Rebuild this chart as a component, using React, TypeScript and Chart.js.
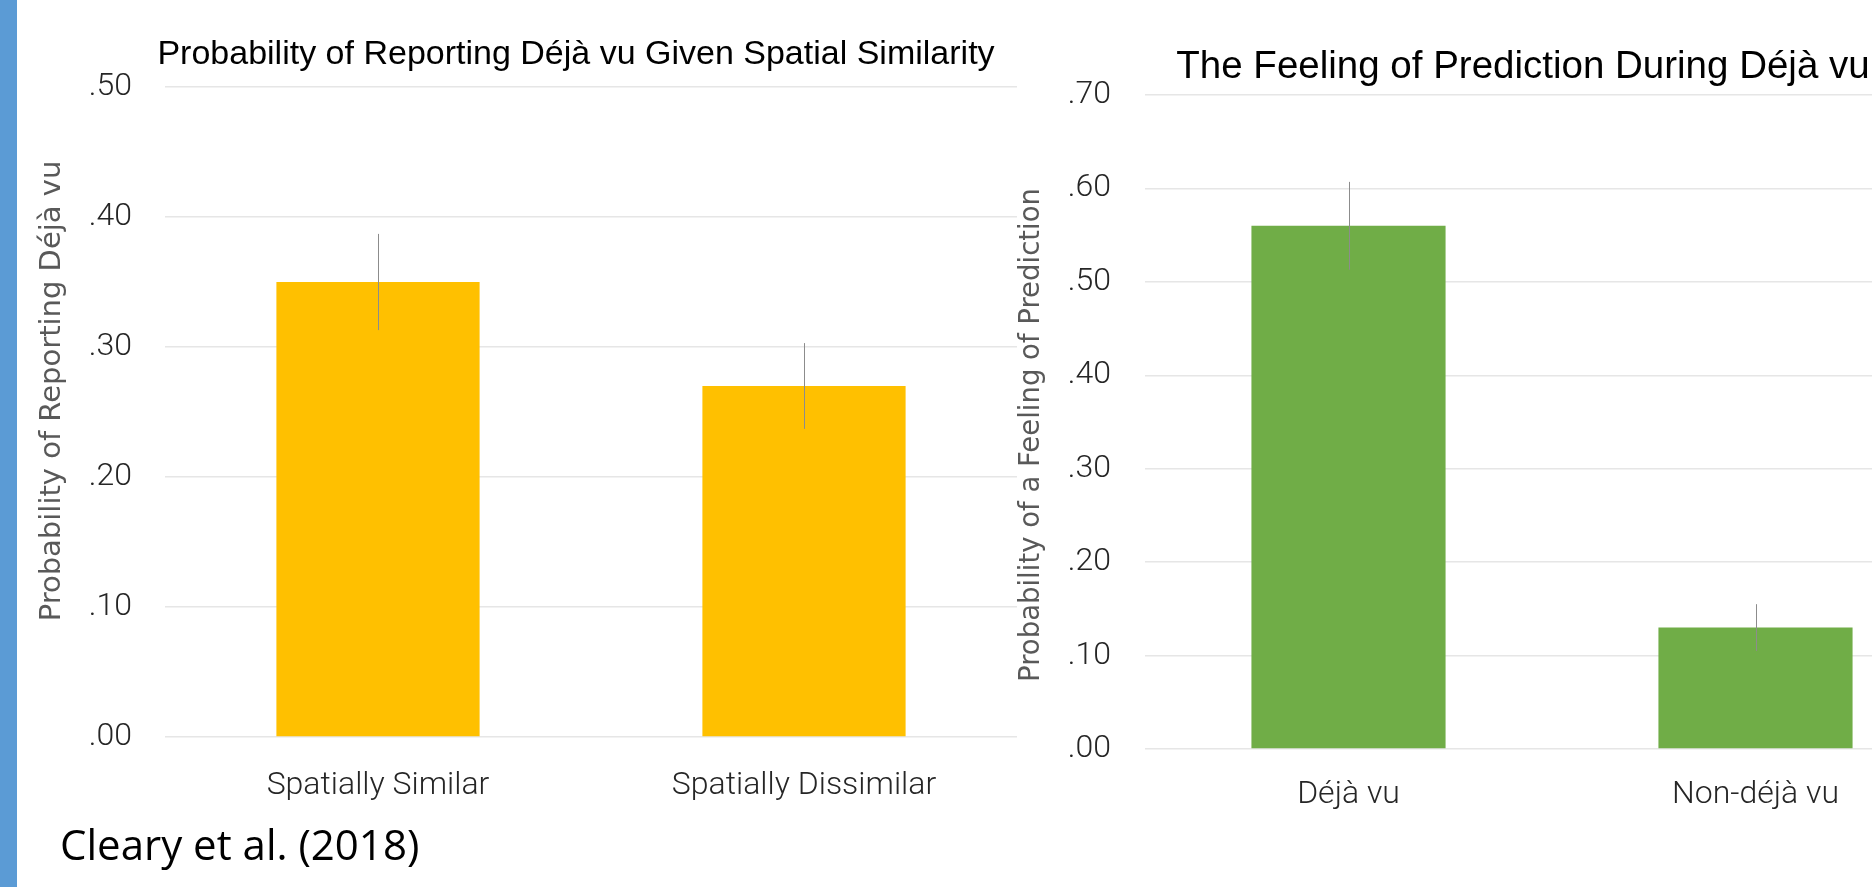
import React, { useEffect, useRef } from 'react';
import { Chart, registerables } from 'chart.js';

Chart.register(...registerables);

// ---------- data ----------
const leftTitle = 'Probability of Reporting Déjà vu Given Spatial Similarity';
const leftCategories = ['Spatially Similar', 'Spatially Dissimilar'];
const leftValues = [0.35, 0.27];
const leftErrors = [0.037, 0.033];
const leftYTitle = 'Probability of Reporting Déjà vu';
const leftYTicks = ['.00', '.10', '.20', '.30', '.40', '.50'];

const rightTitle = 'The Feeling of Prediction During Déjà vu';
const rightCategories = ['Déjà vu', 'Non-déjà vu'];
const rightValues = [0.56, 0.13];
const rightErrors = [0.047, 0.025];
const rightYTitle = 'Probability of a Feeling of Prediction';
const rightYTicks = ['.00', '.10', '.20', '.30', '.40', '.50', '.60', '.70'];

const citation = 'Cleary et al. (2018)';

// ---------- plugins ----------
const errorBarsPlugin = {
  id: 'errorBars',
  afterDatasetsDraw(chart: any, _args: any, opts: any) {
    const errs: number[] = opts.errors || [];
    const meta = chart.getDatasetMeta(0);
    const ys = chart.scales.y;
    const vals = chart.data.datasets[0].data as number[];
    const ctx = chart.ctx;
    ctx.save();
    ctx.strokeStyle = opts.color || '#8c8c8c';
    ctx.lineWidth = opts.width || 1;
    meta.data.forEach((bar: any, i: number) => {
      const e = errs[i];
      if (e == null) return;
      const x = Math.round(bar.x) + 0.5;
      const y1 = ys.getPixelForValue(vals[i] + e);
      const y2 = ys.getPixelForValue(vals[i] - e);
      ctx.beginPath();
      ctx.moveTo(x, y1);
      ctx.lineTo(x, y2);
      ctx.stroke();
    });
    ctx.restore();
  },
};

const yTitlePlugin = {
  id: 'yTitle',
  afterDraw(chart: any, _args: any, opts: any) {
    if (!opts || !opts.text) return;
    const ctx = chart.ctx;
    const area = chart.chartArea;
    ctx.save();
    ctx.translate(opts.x, (area.top + area.bottom) / 2 + (opts.dy || 0));
    ctx.rotate(-Math.PI / 2);
    ctx.font = opts.font;
    ctx.fillStyle = opts.color;
    ctx.textAlign = 'center';
    ctx.textBaseline = 'middle';
    ctx.fillText(opts.text, 0, 0);
    ctx.restore();
  },
};

const panelTitlePlugin = {
  id: 'panelTitle',
  afterDraw(chart: any, _args: any, opts: any) {
    if (!opts || !opts.text) return;
    const ctx = chart.ctx;
    ctx.save();
    ctx.font = opts.font;
    ctx.fillStyle = opts.color;
    ctx.textAlign = 'center';
    ctx.textBaseline = 'middle';
    ctx.fillText(opts.text, opts.x, opts.y);
    ctx.restore();
  },
};

const TICK_FONT = 'Roboto, "Liberation Sans", sans-serif';
const TITLE_FONT = '"Liberation Sans", Arial, sans-serif';

interface PanelProps {
  left: number;
  width: number;
  height: number;
  title: string;
  titleSize: number;
  titleX: number;
  titleY: number;
  categories: string[];
  values: number[];
  errors: number[];
  color: string;
  yMax: number;
  yTicks: string[];
  yTitle: string;
  yTitleSize: number;
  yTitleX: number;
  yTitleDy: number;
  padLeft: number;
  padRight: number;
  padTop: number;
  yAxisWidth: number;
  yTickPad: number;
  xFontSize: number;
  xTickPad: number;
}

function BarPanel(p: PanelProps) {
  const ref = useRef<HTMLCanvasElement>(null);
  useEffect(() => {
    const chart = new Chart(ref.current as HTMLCanvasElement, {
      type: 'bar',
      data: {
        labels: p.categories,
        datasets: [
          {
            data: p.values,
            backgroundColor: p.color,
            borderWidth: 0,
            barPercentage: 1,
            categoryPercentage: 0.477,
          },
        ],
      },
      options: {
        responsive: false,
        animation: false,
        devicePixelRatio: 1,
        layout: { padding: { left: p.padLeft, right: p.padRight, top: p.padTop, bottom: 0 } },
        plugins: {
          legend: { display: false },
          tooltip: { enabled: false },
          title: { display: false },
          panelTitle: {
            text: p.title,
            x: p.titleX,
            y: p.titleY,
            font: `normal ${p.titleSize}px ${TITLE_FONT}`,
            color: '#000000',
          },
          errorBars: { errors: p.errors, color: '#8c8c8c', width: 1 },
          yTitle: {
            text: p.yTitle,
            x: p.yTitleX,
            dy: p.yTitleDy,
            font: `normal ${p.yTitleSize}px "DejaVu Sans", sans-serif`,
            color: '#595959',
          },
        } as any,
        scales: {
          x: {
            grid: { display: false },
            border: { display: false },
            ticks: {
              color: '#262626',
              font: { family: TICK_FONT, size: p.xFontSize, weight: '300' as any },
              padding: p.xTickPad,
            },
            afterFit: (scale: any) => {
              scale.height = 80;
            },
          },
          y: {
            min: 0,
            max: p.yMax,
            grid: { color: '#e6e6e6', lineWidth: 1.5, drawTicks: false },
            border: { display: false },
            ticks: {
              stepSize: 0.1,
              color: '#262626',
              font: { family: TICK_FONT, size: 32, weight: '300' as any },
              padding: p.yTickPad,
              callback: (v: any) => p.yTicks[Math.round(Number(v) * 10)] ?? '',
            },
            afterFit: (scale: any) => {
              scale.width = p.yAxisWidth;
            },
          },
        },
      },
      plugins: [errorBarsPlugin, yTitlePlugin, panelTitlePlugin],
    } as any);
    return () => chart.destroy();
  }, []);
  return (
    <canvas
      ref={ref}
      width={p.width}
      height={p.height}
      style={{ position: 'absolute', left: p.left, top: 0, width: p.width, height: p.height, zIndex: 1 }}
    />
  );
}

export default function App() {
  return (
    <div
      style={{
        position: 'fixed',
        left: 0,
        top: 0,
        width: 1872,
        height: 887,
        overflow: 'hidden',
        background: '#ffffff',
      }}
    >
      <BarPanel
        left={0}
        width={1030}
        height={817}
        title={leftTitle}
        titleSize={34}
        titleX={576}
        titleY={55}
        categories={leftCategories}
        values={leftValues}
        errors={leftErrors}
        color="#FFC000"
        yMax={0.5}
        yTicks={leftYTicks}
        yTitle={leftYTitle}
        yTitleSize={29}
        yTitleX={52}
        yTitleDy={-21}
        padLeft={70}
        padRight={13}
        padTop={87}
        yAxisWidth={95}
        yTickPad={33}
        xFontSize={32}
        xTickPad={22}
      />
      <BarPanel
        left={1005}
        width={960}
        height={829}
        title={rightTitle}
        titleSize={38.5}
        titleX={518}
        titleY={67}
        categories={rightCategories}
        values={rightValues}
        errors={rightErrors}
        color="#70AD47"
        yMax={0.7}
        yTicks={rightYTicks}
        yTitle={rightYTitle}
        yTitleSize={27.5}
        yTitleX={27}
        yTitleDy={13}
        padLeft={50}
        padRight={6}
        padTop={95}
        yAxisWidth={90}
        yTickPad={34}
        xFontSize={32}
        xTickPad={19}
      />
      <div
        style={{
          position: 'absolute',
          left: 0,
          top: 0,
          width: 17,
          height: 887,
          background: '#5B9BD5',
          zIndex: 2,
        }}
      />
      <div
        style={{
          position: 'absolute',
          left: 60,
          top: 819,
          fontFamily: '"Open Sans", sans-serif',
          fontSize: 42,
          lineHeight: '50px',
          color: '#000000',
          whiteSpace: 'nowrap',
          zIndex: 2,
        }}
      >
        {citation}
      </div>
    </div>
  );
}
